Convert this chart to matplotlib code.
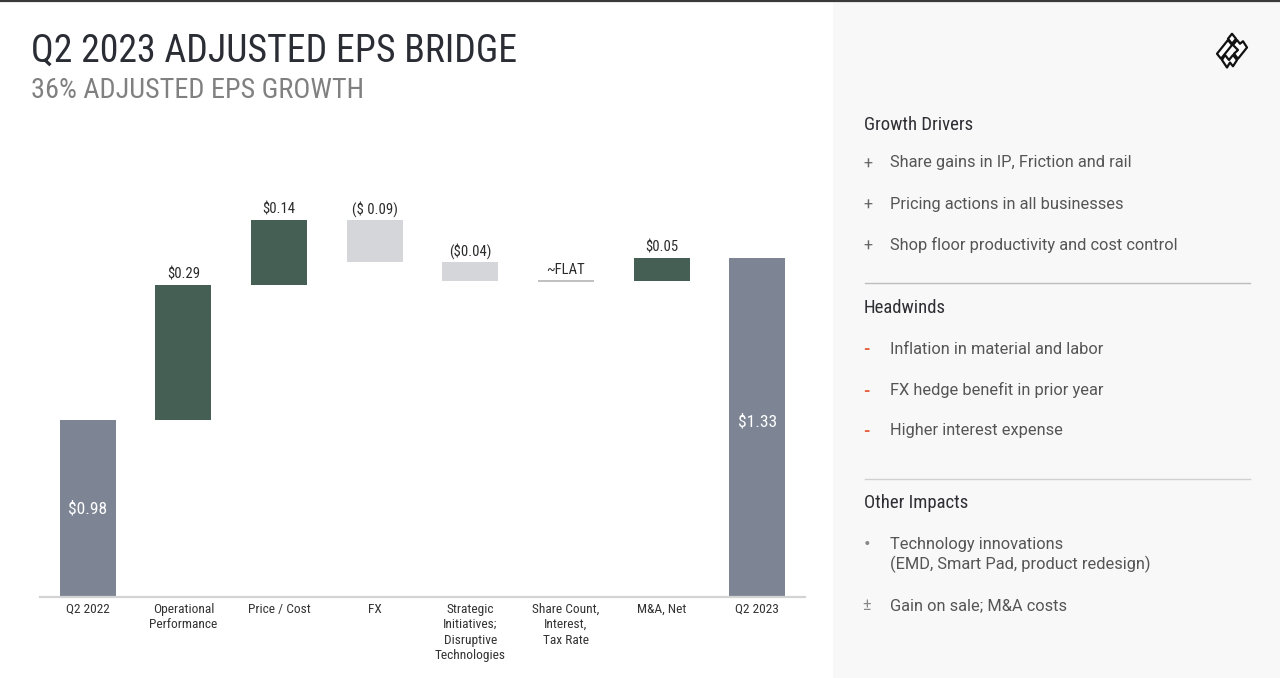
import matplotlib
matplotlib.use("Agg")
import matplotlib.pyplot as plt
from matplotlib.patches import Rectangle, Polygon

# ---- data ----
categories = ["Q2 2022", "Operational\nPerformance", "Price / Cost", "FX",
              "Strategic\nInitiatives;\nDisruptive\nTechnologies",
              "Share Count,\nInterest,\nTax Rate", "M&A, Net", "Q2 2023"]
start_eps = 0.98
deltas = [0.29, 0.14, -0.09, -0.04, 0.00, 0.05]
end_eps = 1.33
value_labels = ["$0.98", "$0.29", "$0.14", "($ 0.09)", "($0.04)", "~FLAT", "$0.05", "$1.33"]

growth_drivers = ["Share gains in IP, Friction and rail",
                  "Pricing actions in all businesses",
                  "Shop floor productivity and cost control"]
headwinds = ["Inflation in material and labor",
             "FX hedge benefit in prior year",
             "Higher interest expense"]
other_impacts = [("\u2022", "Technology innovations\n(EMD, Smart Pad, product redesign)"),
                 ("\u00b1", "Gain on sale; M&A costs")]

TOTAL = "#7d8595"
UP = "#455f54"
DOWN = "#d4d6da"
COND = ["Liberation Sans Narrow", "Roboto Condensed", "Roboto", "DejaVu Sans"]
BODY = ["Roboto", "DejaVu Sans"]

W, H = 1280, 678
fig = plt.figure(figsize=(W / 100, H / 100), dpi=100)
fig.patch.set_facecolor("white")


def fx(px):
    return px / W


def fy(py):
    return 1 - py / H


# right grey panel + top rule
fig.patches.append(Rectangle((fx(833), 0), fx(W - 833), fy(2), transform=fig.transFigure,
                             facecolor="#f8f8f8", edgecolor="none", zorder=-1))
fig.add_artist(plt.Line2D([0, 1], [fy(0.8), fy(0.8)], color="#3a3a3a", lw=1.6))

# titles
fig.text(fx(31), fy(51), "Q2 2023 ADJUSTED EPS BRIDGE", fontsize=27.3, color="#2b2d35",
         family=COND, va="center")
fig.text(fx(31), fy(90), "36% ADJUSTED EPS GROWTH", fontsize=20.3, color="#808080",
         family=COND, va="center")

# ---- waterfall ----
ymin, ymax = 0.6, 1.6
ax = fig.add_axes([fx(40), 1 - 597 / H, fx(805 - 40), 465 / H])
ax.set_xlim(-0.5, len(categories) - 0.5)
ax.set_ylim(ymin, ymax)
bw = 0.586

levels = [start_eps]
for d in deltas:
    levels.append(levels[-1] + d)

tops = []
ax.bar(0, start_eps - ymin, bottom=ymin, width=bw, color=TOTAL)
tops.append(start_eps)
for i, d in enumerate(deltas, start=1):
    lo = levels[i - 1]
    hi = levels[i]
    if abs(d) < 1e-9:
        ax.hlines(lo, i - bw / 2, i + bw / 2, color="#b5b5b5", lw=1.2)
        tops.append(lo)
        continue
    ax.bar(i, abs(d), bottom=min(lo, hi), width=bw, color=UP if d > 0 else DOWN)
    tops.append(max(lo, hi))
n = len(categories) - 1
ax.bar(n, end_eps - ymin, bottom=ymin, width=bw, color=TOTAL)

for i, lab in enumerate(value_labels):
    if i in (0, n):
        val = start_eps if i == 0 else end_eps
        ax.text(i, (ymin + val) / 2 + (0.012 if i == n else 0), lab, ha="center", va="center",
                color="white", fontsize=12.5, family=COND)
    else:
        ax.annotate(lab, (i, tops[i]), xytext=(0, 2.5), textcoords="offset points",
                    ha="center", va="bottom", fontsize=10.6, color="#2b2b2b", family=COND)

ax.set_xticks(range(len(categories)))
ax.set_xticklabels(categories, fontsize=9.6, color="#333333", family=COND,
                   va="top", linespacing=1.25)
ax.tick_params(axis="x", length=0, pad=4)
ax.set_yticks([])
for s in ["top", "right", "left"]:
    ax.spines[s].set_visible(False)
ax.spines["bottom"].set_color("#d3d3d3")
ax.spines["bottom"].set_linewidth(1.6)
ax.patch.set_alpha(0)

# ---- right panel ----
head_kw = dict(fontsize=13.5, color="#2e2e35", family=COND, va="center")
body_kw = dict(fontsize=11.8, color="#555555", family=BODY, va="center")

fig.text(fx(864), fy(125), "Growth Drivers", **head_kw)
for k, t in enumerate(growth_drivers):
    y = 163 + 41 * k
    fig.text(fx(868), fy(y + 1), "+", fontsize=11.5, color="#666666", family=BODY, va="center", ha="center")
    fig.text(fx(890), fy(y), t, **body_kw)

fig.add_artist(plt.Line2D([fx(865), fx(1250)], [fy(283)] * 2, color="#bdbdbd", lw=1))
fig.text(fx(864), fy(308), "Headwinds", **head_kw)
for k, t in enumerate(headwinds):
    y = 349 + 41 * k
    fig.text(fx(866), fy(y + 1), "-", fontsize=12, color="#e2633f", family=BODY, va="center",
             ha="center", fontweight="bold")
    fig.text(fx(890), fy(y), t, **body_kw)

fig.add_artist(plt.Line2D([fx(865), fx(1250)], [fy(479)] * 2, color="#d0d0d0", lw=1))
fig.text(fx(864), fy(503), "Other Impacts", **head_kw)
fig.text(fx(867), fy(545), other_impacts[0][0], fontsize=14, color="#888888", family=BODY,
         va="center", ha="center")
fig.text(fx(890), fy(555), other_impacts[0][1], linespacing=1.25, **body_kw)
fig.text(fx(867), fy(606), other_impacts[1][0], fontsize=11.5, color="#888888", family=BODY,
         va="center", ha="center")
fig.text(fx(890), fy(606), other_impacts[1][1], **body_kw)

# ---- logo (rough sketch of the company mark) ----
lax = fig.add_axes([fx(1212), fy(70), fx(40), 40 / H], zorder=3)
lax.set_xlim(0, 40)
lax.set_ylim(34, 2)
lax.axis("off")
shapes = [
    [(20, 5), (24, 9), (20, 13), (16, 9)],
    [(16, 10), (20, 14), (9, 25), (5, 21)],
    [(21, 14), (25, 10), (28, 13), (31, 11), (35, 16), (26, 25), (22, 21), (26, 18)],
    [(13, 22), (17, 26), (21, 22), (25, 26), (21, 31), (18, 28), (15, 32), (10, 26)],
]
for pts in shapes:
    lax.add_patch(Polygon(pts, closed=True, facecolor="white", edgecolor="#111111", lw=1.6,
                          joinstyle="round"))

fig.savefig("out.png", dpi=100, facecolor=fig.get_facecolor())
